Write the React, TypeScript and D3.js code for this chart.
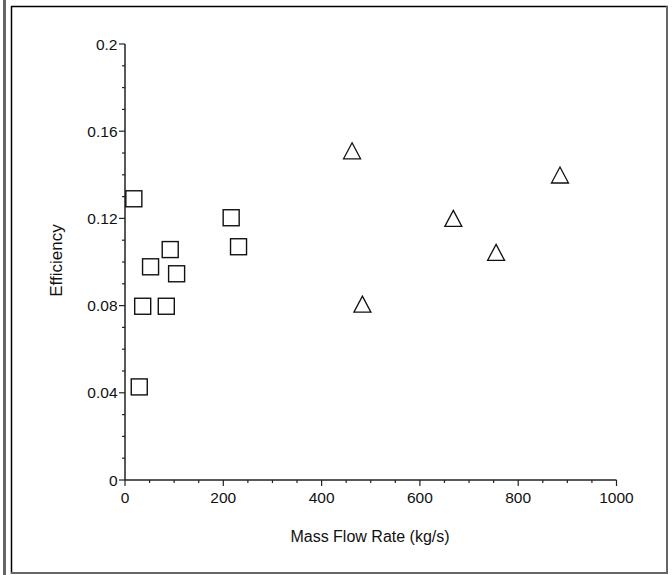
import React from "react";
import * as d3 from "d3";

const squareX = [18, 216, 231, 92, 52, 105, 36, 84, 29];
const squareY = [0.129, 0.1203, 0.107, 0.1057, 0.0978, 0.0946, 0.0797, 0.0797, 0.0427];
const triangleX = [462, 885, 668, 755, 483];
const triangleY = [0.151, 0.1399, 0.12, 0.1044, 0.0807];
const xTicks = [0, 200, 400, 600, 800, 1000];
const yTicks = [0, 0.04, 0.08, 0.12, 0.16, 0.2];
const yTickLabels = ["0", "0.04", "0.08", "0.12", "0.16", "0.2"];
const xTitle = "Mass Flow Rate (kg/s)";
const yTitle = "Efficiency";

const W = 672;
const H = 575;
const x = d3.scaleLinear().domain([0, 1000]).range([125, 616.5]);
const y = d3.scaleLinear().domain([0, 0.2]).range([480, 44]);
const xMinor = d3.range(0, 1001, 50);
const yMinor = d3.range(0, 21, 1).map((v) => v / 100);

const font = "'Liberation Sans', Arial, sans-serif";
const axisColor = "#222";

export default function App() {
  const sq = 16;
  const triW = 17;
  const triH = 16;
  const triPath = (cx: number, cy: number) =>
    d3.line()([
      [cx, cy - triH / 2],
      [cx + triW / 2, cy + triH / 2],
      [cx - triW / 2, cy + triH / 2],
      [cx, cy - triH / 2],
    ]) + "Z";
  return (
    <svg
      width={W}
      height={H}
      style={{ position: "absolute", left: 0, top: 0, background: "#fff" }}
    >
      {/* frame */}
      <rect x={3} y={0} width={3} height={H} fill="#666" />
      <line x1={11.5} y1={6} x2={11.5} y2={574} stroke="#000" strokeWidth={1.5} />
      <line x1={11} y1={6.5} x2={668} y2={6.5} stroke="#000" strokeWidth={1.5} />
      <line x1={667} y1={6} x2={667} y2={574} stroke="#666" strokeWidth={2} />
      <line x1={11} y1={573} x2={668} y2={573} stroke="#666" strokeWidth={2} />

      {/* axes */}
      <line x1={x(0)} y1={y(0)} x2={x(1000)} y2={y(0)} stroke={axisColor} strokeWidth={1.5} />
      <line x1={x(0)} y1={y(0)} x2={x(0)} y2={y(0.2)} stroke={axisColor} strokeWidth={1.5} />

      {xMinor.map((v) => (
        <line key={"xm" + v} x1={x(v)} x2={x(v)} y1={y(0)} y2={y(0) + (v % 200 === 0 ? 6 : 3)} stroke={axisColor} strokeWidth={1.2} />
      ))}
      {yMinor.map((v, i) => (
        <line key={"ym" + i} x1={x(0)} x2={x(0) - (i % 4 === 0 ? 6 : 3)} y1={y(v)} y2={y(v)} stroke={axisColor} strokeWidth={1.2} />
      ))}

      {xTicks.map((v) => (
        <text key={"xt" + v} x={x(v)} y={503} textAnchor="middle" fontFamily={font} fontSize={15.5} fill="#111">
          {String(v)}
        </text>
      ))}
      {yTicks.map((v, i) => (
        <text key={"yt" + v} x={117.5} y={y(v) + 5.5} textAnchor="end" fontFamily={font} fontSize={15.5} fill="#111">
          {yTickLabels[i]}
        </text>
      ))}

      <text x={370} y={542} textAnchor="middle" fontFamily={font} fontSize={16} fill="#111">
        {xTitle}
      </text>
      <text
        transform={`translate(62,260.5) rotate(-90)`}
        textAnchor="middle"
        fontFamily={font}
        fontSize={17}
        fill="#111"
      >
        {yTitle}
      </text>

      {squareX.map((v, i) => (
        <rect key={"s" + i} x={x(v) - sq / 2} y={y(squareY[i]) - sq / 2} width={sq} height={sq} fill="none" stroke="#111" strokeWidth={1.4} />
      ))}
      {triangleX.map((v, i) => (
        <path key={"t" + i} d={triPath(x(v), y(triangleY[i]))} fill="none" stroke="#111" strokeWidth={1.3} strokeLinejoin="miter" />
      ))}
    </svg>
  );
}
